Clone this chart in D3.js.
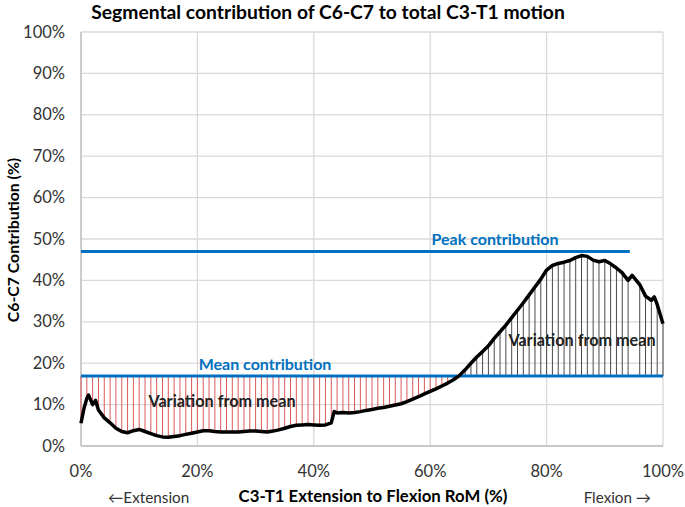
<!DOCTYPE html>
<html><head><meta charset="utf-8">
<script src="https://cdn.jsdelivr.net/npm/d3@7"></script>
<style>body{margin:0;background:#fff}svg{display:block}text{font-family:Lato,"Open Sans",sans-serif}</style>
</head><body><svg id="c" width="685" height="507"></svg>
<script>
const pct = [0,0.5,1,1.3,2,2.5,3,4,5,6,7,8,9,10,11,12,13,14,15,16,17,18,19,20,21,22,23,24,25,26,27,28,29,30,31,32,33,34,35,36,37,38,39,40,41,42,43,43.5,44,45,46,47,48,49,50,51,52,53,54,55,56,57,58,59,60,61,62,63,64,65,66,67,68,69,70,71,72,73,74,75,76,77,78,79,80,81,82,83,84,85,86,87,88,89,90,91,92,93,94,94.7,96,97,98,98.5,99,100];
const contrib = [5.5,9,11.5,12.3,10,11,8.7,6.8,5.6,4.3,3.5,3.2,3.7,4.0,3.5,3.0,2.5,2.2,2.1,2.3,2.5,2.8,3.1,3.4,3.7,3.7,3.5,3.4,3.4,3.4,3.4,3.5,3.6,3.6,3.5,3.4,3.6,3.9,4.3,4.7,5.0,5.1,5.2,5.1,5.0,5.1,5.6,8.3,8.0,8.1,8.0,8.1,8.3,8.6,8.8,9.1,9.3,9.6,9.9,10.2,10.7,11.3,11.9,12.6,13.2,13.8,14.5,15.2,16.0,17.0,18.4,20.0,21.5,22.8,24.2,26.0,27.6,29.2,31.0,32.8,34.6,36.5,38.4,40.3,42.5,43.6,44.1,44.4,44.8,45.5,46.0,45.8,44.9,44.5,44.8,44.0,43.0,41.8,40.0,41.2,39.0,36.2,35.2,36.0,34.2,29.5];
const meanValue = 16.9;
const peakValue = 47;
const peakLineEnd = 94.3;
const xTicks = [0,20,40,60,80,100];
const yTicks = [0,10,20,30,40,50,60,70,80,90,100];
const title = "Segmental contribution of C6-C7 to total C3-T1 motion";

const svg = d3.select("#c");
const m = {l:81, r:663, t:32, b:446};
const x = d3.scaleLinear().domain([0,100]).range([m.l, m.r]);
const y = d3.scaleLinear().domain([0,100]).range([m.b, m.t]);
const data = pct.map((p,i)=>({p, v:contrib[i]}));

// grid
svg.append("g").selectAll("line").data(yTicks).join("line")
  .attr("x1", m.l).attr("x2", m.r).attr("y1", d=>y(d)).attr("y2", d=>y(d))
  .attr("stroke", "#d9d9d9").attr("stroke-width", 1.3);
svg.append("g").selectAll("line").data(xTicks).join("line")
  .attr("y1", m.t).attr("y2", m.b).attr("x1", d=>x(d)).attr("x2", d=>x(d))
  .attr("stroke", "#d9d9d9").attr("stroke-width", 1.3);
svg.append("line").attr("x1", m.l).attr("x2", m.l).attr("y1", m.t).attr("y2", m.b).attr("stroke", "#bfbfbf").attr("stroke-width",1.3);
svg.append("line").attr("x1", m.l).attr("x2", m.r).attr("y1", m.b).attr("y2", m.b).attr("stroke", "#bfbfbf").attr("stroke-width",1.3);

// drop lines
const drops = data.filter(d => Number.isInteger(d.p));
svg.append("g").selectAll("line").data(drops).join("line")
  .attr("x1", d=>x(d.p)).attr("x2", d=>x(d.p))
  .attr("y1", y(meanValue)).attr("y2", d=>y(d.v))
  .attr("stroke", d => d.v < meanValue ? "#dc5a5a" : "#4a4a4a")
  .attr("stroke-width", 1);

// reference lines
svg.append("line").attr("x1", x(0)).attr("x2", x(100)).attr("y1", y(meanValue)).attr("y2", y(meanValue))
  .attr("stroke", "#0070C0").attr("stroke-width", 3);
svg.append("line").attr("x1", x(0)).attr("x2", x(peakLineEnd)).attr("y1", y(peakValue)).attr("y2", y(peakValue))
  .attr("stroke", "#0070C0").attr("stroke-width", 3);

// curve
svg.append("path").datum(data)
  .attr("d", d3.line().x(d=>x(d.p)).y(d=>y(d.v)))
  .attr("fill", "none").attr("stroke", "#000").attr("stroke-width", 3.5).attr("stroke-linejoin","round");

// annotations
svg.append("text").attr("x", 495).attr("y", 245).attr("text-anchor","middle")
  .attr("font-size", 16).attr("font-weight","bold").attr("fill","#0070C0").text("Peak contribution");
svg.append("text").attr("x", 265).attr("y", 370).attr("text-anchor","middle")
  .attr("font-size", 16).attr("font-weight","bold").attr("fill","#0070C0").text("Mean contribution");
svg.append("text").attr("x", 222).attr("y", 407).attr("text-anchor","middle")
  .attr("font-size", 16.2).attr("font-weight","bold").attr("fill","#222").text("Variation from mean");
svg.append("text").attr("x", 582).attr("y", 346).attr("text-anchor","middle")
  .attr("font-size", 16.2).attr("font-weight","bold").attr("fill","#222").text("Variation from mean");

// axes labels
svg.append("g").selectAll("text").data(yTicks).join("text")
  .attr("x", 65).attr("y", d=>y(d)+5.5).attr("text-anchor","end")
  .attr("font-size", 16.5).attr("fill","#333").text(d=>d+"%");
svg.append("g").selectAll("text").data(xTicks).join("text")
  .attr("x", d=>x(d)).attr("y", 477).attr("text-anchor","middle")
  .attr("font-size", 16.5).attr("fill","#333").text(d=>d+"%");

svg.append("text").attr("x", 328).attr("y", 19).attr("text-anchor","middle")
  .attr("font-size", 19.3).attr("font-weight","bold").attr("fill","#000").text(title);
svg.append("text").attr("x", 373).attr("y", 502).attr("text-anchor","middle")
  .attr("font-size", 16.8).attr("font-weight","bold").attr("fill","#000").text("C3-T1 Extension to Flexion RoM (%)");
svg.append("text").attr("x", 108).attr("y", 503).attr("text-anchor","start")
  .attr("font-size", 15.3).attr("fill","#333").text("←Extension");
svg.append("text").attr("x", 651).attr("y", 503).attr("text-anchor","end")
  .attr("font-size", 15.2).attr("fill","#333").text("Flexion →");
svg.append("text").attr("transform","translate(19,240) rotate(-90)").attr("text-anchor","middle")
  .attr("font-size", 15.8).attr("font-weight","bold").attr("fill","#000").text("C6-C7 Contribution (%)");
</script></body></html>
